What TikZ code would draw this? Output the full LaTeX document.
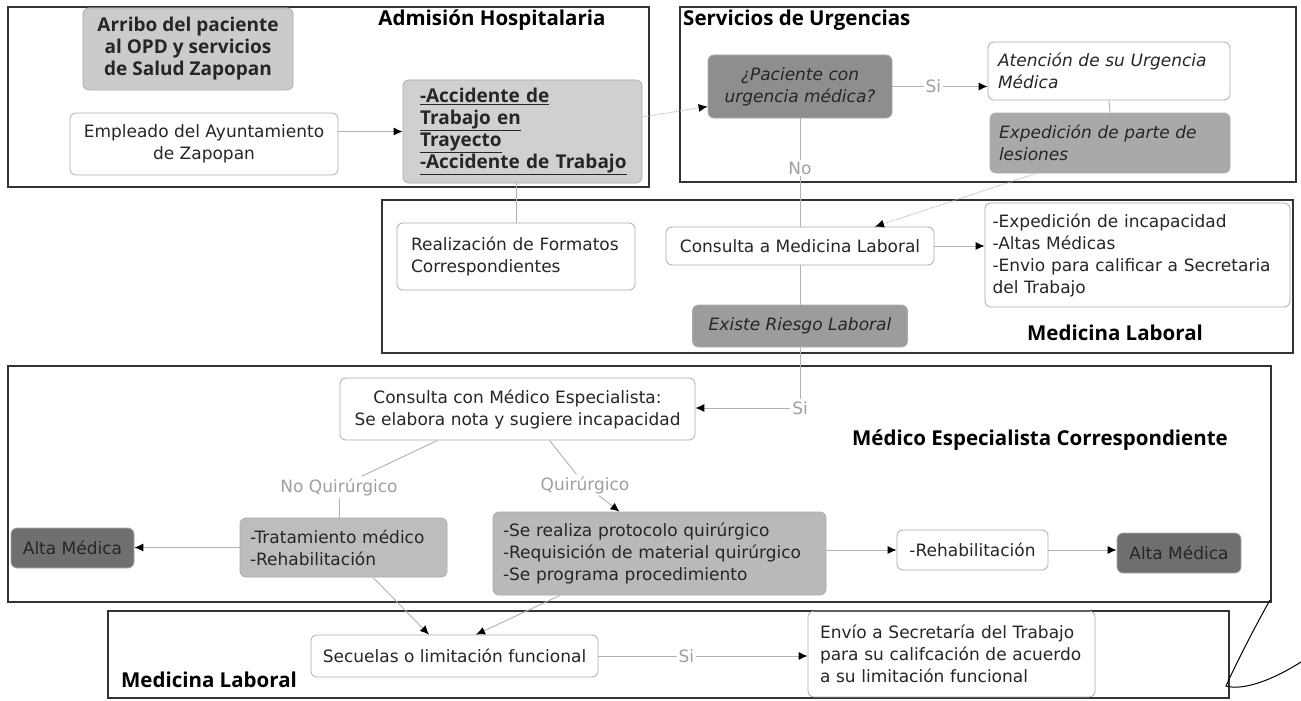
\documentclass[tikz,border=0pt]{standalone}
\usepackage{fontspec}
\setmainfont{DejaVu Sans}
\newfontfamily\hfont{Open Sans}
\usetikzlibrary{arrows.meta}
\definecolor{fArribo}{HTML}{CBCBCB}
\definecolor{fAcc}{HTML}{D0D0D0}
\definecolor{fTrat}{HTML}{BDBDBD}
\definecolor{fProt}{HTML}{B9B9B9}
\definecolor{fExped}{HTML}{A9A9A9}
\definecolor{fPreg}{HTML}{8E8E8E}
\definecolor{fExiste}{HTML}{9C9C9C}
\definecolor{fAlta}{HTML}{6F6F6F}
\newcommand\bodyf{\fontsize{17}{22}\selectfont}
\newcommand\headf{\hfont\bfseries\fontsize{20.5}{24}\selectfont}
\newcommand\boldf{\hfont\bfseries\fontsize{19}{22}\selectfont}
\begin{document}
\begin{tikzpicture}[x=1pt,y=-1pt,
  frame/.style={draw=black!80,line width=2pt},
  box/.style={draw=gray!65,line width=0.8pt,rounded corners=6pt,inner xsep=0pt,inner ysep=0pt,font=\bodyf,text=black!85},
  sz/.style 2 args={minimum width=#1,minimum height=#2},
  head/.style={font=\headf,text=black,inner sep=1pt},
  lab/.style={font=\bodyf,text=gray!75,fill=white,inner sep=2pt},
  conn/.style={draw=gray!60,line width=0.9pt},
  arr/.style={conn,-{Latex[length=9pt,width=8pt,color=black]}},
]
\useasboundingbox (0,0) rectangle (1301,701);
\fill[white] (0,0) rectangle (1301,701);

% frames
\draw[frame] (8,7) rectangle (649,187);
\draw[frame] (680,7) rectangle (1296,182);
\draw[frame] (382,200) rectangle (1293,353);
\draw[frame] (8,366) rectangle (1271,602);
\draw[frame] (108,611) rectangle (1229,698);

% headings
\node[head] (h1) at (492,20) {Admisión Hospitalaria};
\node[head,anchor=west] (h2) at (682,20) {Servicios de Urgencias};
\node[head] (h3) at (1115,333) {Medicina Laboral};
\node[head] (h4) at (1040,440) {Médico Especialista Correspondiente};
\node[head] (h5) at (209,680) {Medicina Laboral};

% nodes
\node[box,fill=fArribo,sz={210}{82},font=\boldf,align=center] (arribo) at (188,49) {Arribo del paciente\\al OPD y servicios\\de Salud Zapopan};
\node[box,sz={268}{62},align=center] (empleado) at (204,144) {Empleado del Ayuntamiento\\de Zapopan};
\node[box,fill=fAcc,sz={239}{103},text width=205,align=left,font=\boldf] (acc) at (522.5,131.5) {\underline{-Accidente de}\\\underline{Trabajo en}\\\underline{Trayecto}\\\underline{-Accidente de Trabajo}};
\node[box,fill=fPreg,sz={184}{63},align=center,font=\bodyf\itshape] (preg) at (800,86.5) {¿Paciente con\\urgencia médica?};
\node[box,sz={242}{58},text width=222,align=left,font=\bodyf\itshape] (aten) at (1109,71) {Atención de su Urgencia\\Médica};
\node[box,fill=fExped,sz={240}{60},text width=222,align=left,font=\bodyf\itshape] (exped) at (1110,143) {Expedición de parte de\\lesiones};
\node[box,sz={238}{67},text width=210,align=left] (real) at (516,256.5) {Realización de Formatos\\Correspondientes};
\node[box,sz={268}{38}] (cml) at (800,246) {Consulta a Medicina Laboral};
\node[box,sz={305}{104},text width=290,align=left] (list) at (1137.5,255) {-Expedición de incapacidad\\-Altas Médicas\\-Envio para calificar a Secretaria\\del Trabajo};
\node[box,fill=fExiste,sz={215}{42},font=\bodyf\itshape] (existe) at (800,326) {Existe Riesgo Laboral};
\node[box,sz={355}{62},align=center] (cesp) at (517.5,409) {Consulta con Médico Especialista:\\Se elabora nota y sugiere incapacidad};
\node[box,fill=fTrat,sz={207}{59},text width=187,align=left] (trat) at (343.5,547.5) {-Tratamiento médico\\-Rehabilitación};
\node[box,fill=fAlta,sz={123}{40}] (altaL) at (72.5,548) {Alta Médica};
\node[box,fill=fProt,sz={333}{83},text width=313,align=left] (prot) at (659.5,553.5) {-Se realiza protocolo quirúrgico\\-Requisición de material quirúrgico\\-Se programa procedimiento};
\node[box,sz={151}{40}] (rehab) at (972.5,550) {-Rehabilitación};
\node[box,fill=fAlta,sz={124}{40}] (altaR) at (1179,553) {Alta Médica};
\node[box,sz={287}{42}] (secu) at (454.5,656) {Secuelas o limitación funcional};
\node[box,sz={287}{86},text width=263,align=left] (envio) at (951.5,654) {Envío a Secretaría del Trabajo\\para su califcación de acuerdo\\a su limitación funcional};

% labels
\node[lab] (si2) at (800,408) {Si};
\node[lab] (nq) at (339,487) {No Quirúrgico};
\node[lab] (ql) at (585,485) {Quirúrgico};

% connectors
\draw[arr] (empleado.east |- acc.west) -- (acc.west);
\draw[arr,densely dotted] ([yshift=14.5pt]acc.east) -- ([yshift=-20pt]preg.west);
\draw[arr] (preg.east) -- (preg.east -| aten.west) node[lab,pos=0.43] {Si};
\draw[conn] (aten.south) -- (exped.north);
\draw[conn] (preg.south) -- (cml.north) node[lab,pos=0.46] {No};
\draw[arr,densely dotted] ([xshift=-74pt]exped.south) -- ([xshift=75pt]cml.north);
\draw[arr] (cml.east) -- (cml.east -| list.west);
\draw[conn] (real.north |- acc.south) -- (real.north);
\draw[conn] (cml.south) -- (existe.north);
\draw[conn] (existe.south) -- (si2.north);
\draw[arr] (si2.west) -- (si2.west -| cesp.east);
\draw[conn] ([xshift=-80pt]cesp.south) -- (nq);
\draw[conn] (nq) -- (nq |- trat.north);
\draw[conn] ([xshift=32pt]cesp.south) -- (ql);
\draw[arr] (ql) -- ([xshift=-40pt]prot.north);
\draw[arr] (trat.west) -- (trat.west -| altaL.east);
\draw[arr] (prot.east |- rehab.west) -- (rehab.west);
\draw[arr] (rehab.east) -- (rehab.east -| altaR.west);
\draw[arr] ([xshift=29.5pt]trat.south) -- ([xshift=-25.5pt]secu.north);
\draw[arr] ([xshift=-99.5pt]prot.south) -- ([xshift=21.5pt]secu.north);
\draw[arr] (secu.east) -- (secu.east -| envio.west) node[lab,pos=0.42] {Si};

% handwritten mark at the right
\draw[black,line width=1pt] (1270,600) .. controls (1252,632) and (1234,668) .. (1226,686) .. controls (1240,690) and (1266,684) .. (1301,662);
\end{tikzpicture}
\end{document}
